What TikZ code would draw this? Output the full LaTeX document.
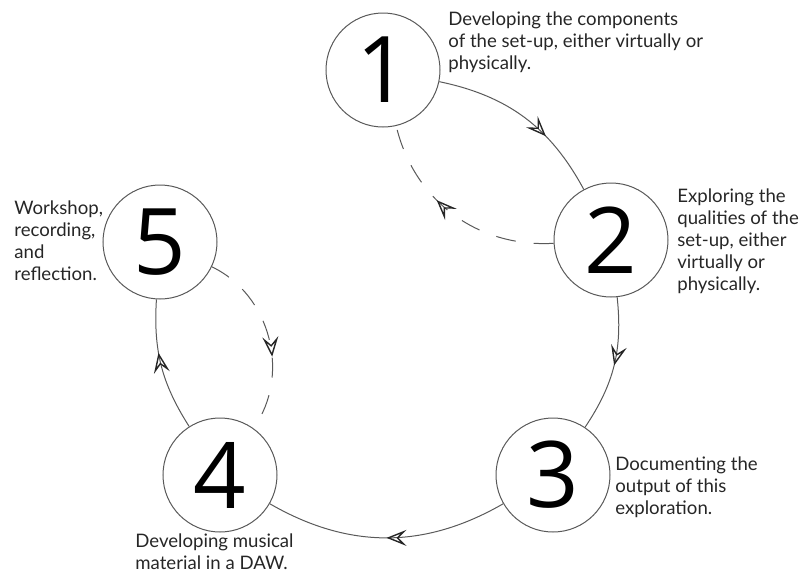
\documentclass[tikz,border=0pt]{standalone}
\usepackage{fontspec}
\setmainfont{Lato}
\newfontfamily\chiffre{Open Sans}
\usetikzlibrary{arrows.meta,decorations.markings}

\tikzset{
  etape/.style={circle, draw=black!65, line width=0.5pt, minimum size=57pt, inner sep=0pt,
    font=\chiffre\fontsize{46}{46}\selectfont},
  texte/.style={align=left, anchor=west, inner sep=0pt, text=black!85,
    font=\fontsize{9.3}{11}\selectfont},
  fleche/.style={draw=black!65, line width=0.5pt, postaction=decorate,
    decoration={markings, mark=at position #1 with
      {\arrow{Stealth[open, length=10pt, width=8pt, inset=4pt, line width=0.7pt, black!85]}}}},
  retour/.style={fleche=#1, dash pattern=on 10pt off 9pt}
}

\begin{document}
\begin{tikzpicture}[x=0.5pt, y=0.5pt]

\useasboundingbox (0,0) rectangle (800,-574);

% Cercles
  \node[etape] (n1) at (383,-70) {1};
  \node[etape] (n2) at (611,-240) {2};
  \node[etape] (n3) at (553,-475) {3};
  \node[etape] (n4) at (220,-475) {4};
  \node[etape] (n5) at (160,-242) {5};

% Textes
  \node[texte] (t1) at (448,-42) {Developing the components\\of the set-up, either virtually or\\physically.};
  \node[texte] (t2) at (677,-241) {Exploring the\\qualities of the\\set-up, either\\virtually or\\physically.};
  \node[texte] (t3) at (615,-487) {Documenting the\\output of this\\exploration.};
  \node[texte] (t4) at (135,-552) {Developing musical\\material in a DAW.};
  \node[texte] (t5) at (14,-241) {Workshop,\\recording,\\and\\reflection.};

% Fleches
  \draw[fleche=0.65] (n1) to[bend left=25] (n2);
  \draw[fleche=0.5] (n2) to[bend left=20] (n3);
  \draw[fleche=0.5] (n3) to[bend left=30] (n4);
  \draw[fleche=0.6] (n4) to[bend left=18] (n5);

% Retours
  \draw[retour=0.6] (n2) to[bend left=40] (n1);
  \draw[retour=0.6] (n5) to[bend left=50] (n4);

\end{tikzpicture}
\end{document}
